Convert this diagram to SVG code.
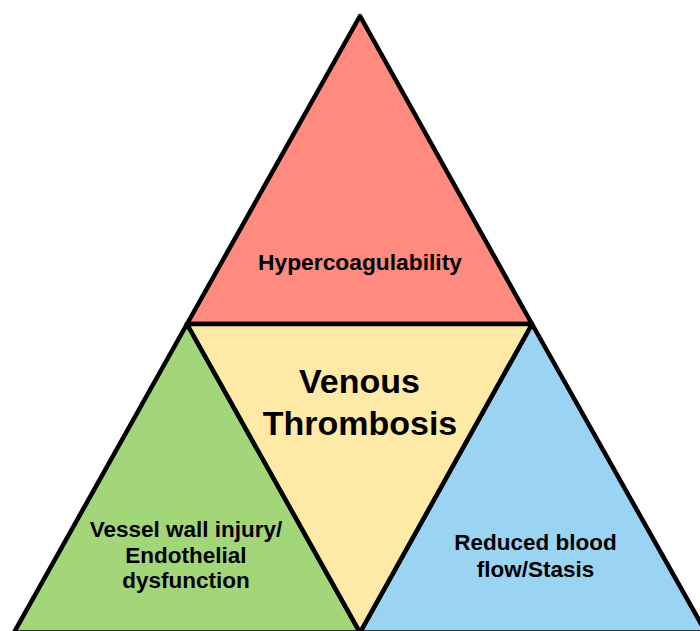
<svg xmlns="http://www.w3.org/2000/svg" width="700" height="631" viewBox="0 0 700 631">
<style>
.tri{stroke:#000;stroke-width:4.5;stroke-linejoin:round}
.lbl{font-family:"Liberation Sans",Arial,sans-serif;font-weight:bold;fill:#000;text-anchor:middle}
.s{font-size:22.5px}
.big{font-size:34px}
</style>
<rect width="700" height="631" fill="#fff"/>
<g id="hypercoagulability">
<polygon class="tri" points="360,16 187,324 532,324" fill="#ff8a7f"/>
<text class="lbl" style="font-size:22.8px" x="360" y="270">Hypercoagulability</text>
</g>
<g id="vessel-wall">
<polygon class="tri" points="187,324 14,632.5 360,632.5" fill="#a2d678"/>
<text class="lbl s" x="186" y="537">Vessel wall injury/</text>
<text class="lbl s" x="186" y="563">Endothelial</text>
<text class="lbl s" x="186" y="588">dysfunction</text>
</g>
<g id="stasis">
<polygon class="tri" points="532,324 360,632.5 706,632.5" fill="#9bd3f3"/>
<text class="lbl s" x="535.5" y="550">Reduced blood</text>
<text class="lbl s" x="535.5" y="577">flow/Stasis</text>
</g>
<g id="venous-thrombosis">
<polygon class="tri" points="187,324 532,324 360,632.5" fill="#ffe9a6"/>
<text class="lbl big" x="359.5" y="393">Venous</text>
<text class="lbl big" x="360" y="435">Thrombosis</text>
</g>
</svg>
